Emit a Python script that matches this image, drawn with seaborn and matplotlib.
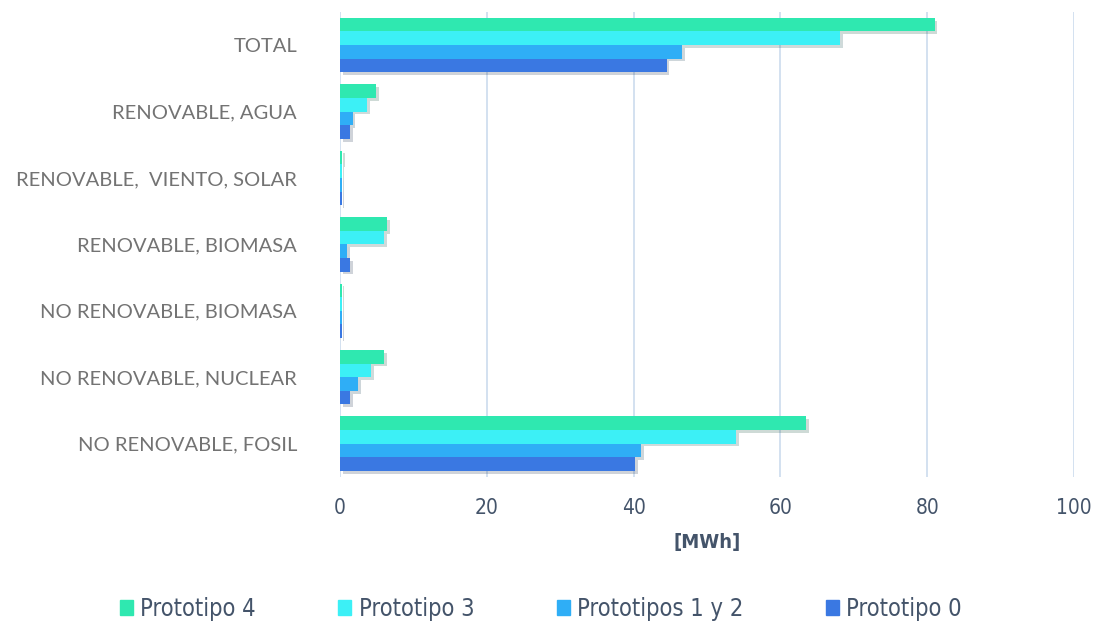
import pandas as pd
import matplotlib
matplotlib.use("Agg")
import matplotlib.pyplot as plt
import matplotlib.patheffects as pe
import seaborn as sns

# categories, top to bottom
categorias = ["TOTAL", "RENOVABLE, AGUA", "RENOVABLE,  VIENTO, SOLAR",
              "RENOVABLE, BIOMASA", "NO RENOVABLE, BIOMASA",
              "NO RENOVABLE, NUCLEAR", "NO RENOVABLE, FOSIL"]
series = ["Prototipo 4", "Prototipo 3", "Prototipos 1 y 2", "Prototipo 0"]

# values [MWh]
prototipo_4 = [81.0, 4.9, 0.3, 6.4, 0.2, 6.0, 63.5]
prototipo_3 = [68.1, 3.7, 0.2, 6.0, 0.2, 4.2, 54.0]
prototipos_1y2 = [46.6, 1.7, 0.2, 1.0, 0.2, 2.5, 41.0]
prototipo_0 = [44.5, 1.4, 0.2, 1.4, 0.2, 1.4, 40.2]

xticks = [0, 20, 40, 60, 80, 100]
colores = ["#2FE8B0", "#3CF0F6", "#2FAEF6", "#3A78E2"]

rows = []
for s, vals in zip(series, [prototipo_4, prototipo_3, prototipos_1y2, prototipo_0]):
    for c, v in zip(categorias, vals):
        rows.append({"categoria": c, "serie": s, "valor": v})
df = pd.DataFrame(rows)

sns.set_style("white")
fig = plt.figure(figsize=(10.97, 6.25), dpi=100)
ax = fig.add_axes([0.31, 0.237, 0.669, 0.744])

sns.barplot(data=df, y="categoria", x="valor", hue="serie", order=categorias,
            hue_order=series, palette=colores, orient="h", width=0.82,
            saturation=1, ax=ax, legend=False)

for p in ax.patches:
    p.set_linewidth(0)
    p.set_path_effects([pe.SimplePatchShadow(offset=(2, -2), alpha=0.2), pe.Normal()])

ax.set_xlim(0, 100)
ax.set_xticks(xticks)
ax.xaxis.grid(True, color="#CCDBEE", linewidth=1.2)
ax.set_axisbelow(True)
for s in ax.spines.values():
    s.set_visible(False)
ax.tick_params(axis="both", length=0)
ax.tick_params(axis="x", pad=15)
ax.tick_params(axis="y", pad=31)

narrow = ["DejaVu Sans"]
for t in ax.get_xticklabels():
    t.set_fontfamily(narrow)
    t.set_fontstretch("condensed")
    t.set_fontsize(15)
    t.set_color("#44546A")
for t in ax.get_yticklabels():
    t.set_fontfamily(["Lato", "DejaVu Sans"])
    t.set_fontweight("normal")
    t.set_fontsize(14.5)
    t.set_color("#737373")

ax.set_ylabel("")
ax.set_xlabel("[MWh]", fontsize=14.5, fontweight="bold", color="#44546A",
              family=narrow, fontstretch="condensed", labelpad=11)

handles = [plt.Rectangle((0, 0), 1, 1, color=c) for c in colores]
leg = fig.legend(handles, series, loc="center", bbox_to_anchor=(0.493, 0.026),
                 ncol=4, frameon=False, handlelength=0.55, handleheight=0.55,
                 handletextpad=0.3, columnspacing=3.5,
                 prop={"family": narrow, "stretch": "condensed", "size": 17})
for t in leg.get_texts():
    t.set_color("#44546A")

fig.savefig("out.png", dpi=100)
